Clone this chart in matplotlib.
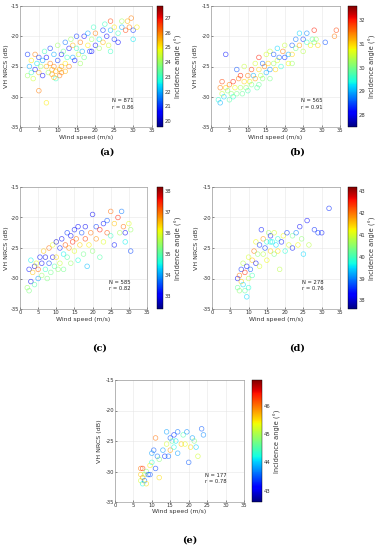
import numpy as np
import matplotlib
matplotlib.use("Agg")
import matplotlib.pyplot as plt

plt.rcParams["axes.unicode_minus"] = False

# (a) wind speed, VH NRCS, incidence angle
wa = [2, 2.5, 2, 3, 3, 3.5, 4, 4, 4.5, 5, 5, 5.5, 5, 6, 6, 6.5, 7, 7, 7.5, 7, 8, 8, 8.5, 9, 9, 9.5, 10, 10,
      10.5, 11, 11, 11.5, 12, 12, 12.5, 13, 13, 13.5, 14, 14, 14.5, 15, 15, 15.5, 16, 16.5, 17, 17, 18, 18,
      18.5, 19, 19.5, 20, 20, 21, 21, 22, 22, 22.5, 23, 23.5, 24, 24, 25, 25, 26, 26, 27, 27, 28, 28.5, 29,
      29.5, 30, 31, 30, 16, 19, 24, 8.5, 9.5, 10.5, 11, 9, 12]
sa = [-26.5, -25, -23, -24, -26, -27, -25.5, -23, -24.5, -26, -23.5, -25, -29, -24, -26.5, -22.5, -25, -23.5,
      -26, -31, -24.5, -22, -25.5, -23, -25, -27, -24, -21.5, -25.5, -23, -26, -22.5, -24.5, -21, -23.5, -25,
      -22, -20.5, -23.5, -21.5, -24, -22, -20, -23, -21, -22.5, -20, -23.5, -21.5, -19.5, -22.5, -20.5, -18.5,
      -21.5, -19.5, -20.5, -22, -19, -21, -18, -20, -21.5, -19, -17.5, -20.5, -18.5, -19.5, -21, -18.5, -17.5,
      -19, -17.5, -18.5, -17, -19, -18.5, -20.5, -24.5, -22.5, -22.5, -26.3, -25.8, -26.5, -25, -26.8, -25.8]
ia = [24, 22, 21, 25, 23, 24.5, 20.5, 26, 22.5, 25.5, 21, 24, 26, 22, 20.5, 23, 25.5, 20.5, 24, 25, 26, 21,
      25.5, 22, 26, 23, 21, 24, 25.5, 20.5, 26, 23.5, 25, 21.5, 23, 26, 20.5, 24, 22, 25.5, 20.5, 23, 21, 24.5,
      26, 22, 20.5, 23.5, 25, 22, 21, 24, 23, 20.5, 26, 22.5, 24, 21, 25.5, 23, 20.5, 24.5, 22, 26.5, 21, 25,
      23, 20.5, 22, 24, 26.5, 25.5, 26, 26, 21, 25, 22.5, 24, 20.5, 23, 25.8, 25.6, 26, 25.7, 25.5, 25.5]

# (b)
wb = [2, 2.5, 2.5, 3, 3, 3.5, 4, 4, 4.5, 5, 5, 5.5, 6, 6, 6.5, 7, 7, 7.5, 8, 8, 8.5, 9, 9, 9.5, 10, 10, 10.5,
      11, 11, 11.5, 12, 12, 12.5, 13, 13, 13.5, 14, 14, 14.5, 15, 15, 15.5, 16, 16, 17, 17, 17.5, 18, 18, 18.5,
      19, 19.5, 20, 20, 21, 21, 22, 22, 23, 23, 24, 24, 25, 25, 26, 26, 27, 27.5, 28, 28, 28.5, 29, 31, 33.5,
      34, 22, 16, 13]
sb = [-30.5, -31, -28.5, -29.5, -27.5, -30, -28.5, -23, -29, -30.5, -28, -29.5, -27.5, -30, -28.5, -29.5,
      -25.5, -27, -28.5, -26.5, -29.5, -27.5, -25, -28.5, -26.5, -29, -27.5, -25.5, -28, -26.5, -27, -24.5,
      -28.5, -25.5, -23.5, -26.5, -24.5, -27, -25, -23, -26, -24.5, -25.5, -22.5, -24.5, -23, -25.5, -22, -24,
      -23.5, -25, -22.5, -23.5, -21.5, -23, -24.5, -21.5, -23, -22, -20.5, -21.5, -19.5, -20.5, -22.5, -21,
      -19.5, -21.5, -20.5, -21, -19, -20.5, -21.5, -21, -20, -19, -24.5, -27, -28]
ib = [29.5, 29, 31.5, 30.5, 31.8, 29.2, 31, 28.2, 30, 29.8, 31.5, 30.2, 32, 29.5, 30.8, 30, 28.5, 31.5, 30.3,
      32, 29.9, 31, 30.5, 30.2, 31.5, 29.7, 30.8, 31.8, 30, 29, 31.3, 30.6, 29.8, 31, 32, 30.4, 28.6, 30.1, 31.5,
      30.6, 29, 31, 28.8, 30.5, 30.2, 28.5, 31, 29.2, 30.6, 28.6, 29.5, 31.5, 28.3, 30.5, 29, 30.8, 28.5, 31, 30,
      28.7, 31.3, 29.2, 28.4, 30.4, 29.6, 28.8, 30.8, 29.8, 30, 32, 30.3, 31, 28.5, 31.5, 31.8, 30.2, 30, 29.9]

# (c)
wc = [2, 2.5, 2.5, 3, 3, 3.5, 4, 4, 4.5, 5, 5, 5.5, 6, 6, 6.5, 7, 7, 7.5, 8, 8, 8.5, 9, 9, 9.5, 10, 10, 10.5,
      11, 11, 11.5, 12, 12, 12.5, 13, 13, 13.5, 14, 14, 14.5, 15, 15, 15.5, 16, 16, 16.5, 17, 17.5, 18, 18,
      18.5, 19, 19.5, 20, 20, 21, 21, 22, 22, 23, 23, 24, 24, 25, 25, 26, 26, 27, 27.5, 28, 28.5, 29, 30, 30.5,
      30.5, 29]
sc = [-31.5, -32, -28.5, -27, -30.5, -29, -31, -28, -27.5, -30, -28.5, -26.5, -29.5, -27.5, -25.5, -28.5,
      -26.5, -30, -27.5, -25, -29, -26.5, -24.5, -28, -24, -26.5, -28.5, -25, -27.5, -23.5, -26, -28.5, -24.5,
      -22.5, -26.5, -25, -23, -27.5, -24, -22, -25.5, -23.5, -21.5, -27, -24.5, -22.5, -26, -23.5, -21.5, -28,
      -24.5, -22.5, -19.5, -25.5, -21.5, -23.5, -22, -26.5, -21, -24, -22.5, -20.5, -23, -19, -21, -24.5, -20,
      -22.5, -19, -21.5, -22.5, -21, -25.5, -22, -24]
ic = [35.5, 35.3, 33.2, 34.5, 33, 36.5, 35, 32.8, 36, 34, 37, 33.2, 35.5, 33, 36.5, 34.8, 32.9, 35.3, 33.5, 37,
      35.2, 33.1, 36, 35, 32.8, 36.3, 35.4, 33.3, 35.8, 33, 34.5, 35.2, 37.2, 33.4, 35, 36.8, 33, 35.5, 37.5,
      33.2, 36, 37, 33.1, 34.6, 36.4, 33.5, 35.2, 37.3, 33, 34.2, 36.2, 37, 33, 35.4, 33.4, 36.8, 37.5, 35, 33.2,
      36, 37.2, 33.6, 34.8, 37, 36.5, 33.2, 37.5, 35.6, 33.8, 37, 33, 36, 33.5, 35.5, 34.5]

# (d)
wd = [7, 7, 7.5, 7.5, 8, 8, 8.5, 8.5, 9, 9, 9.5, 9.5, 10, 10, 10.5, 11, 11, 11.5, 12, 12, 12.5, 13, 13, 13.5,
      14, 14, 14.5, 15, 15, 15.5, 16, 16, 16.5, 17, 17, 17.5, 18, 18, 18.5, 19, 19.5, 20, 20.5, 21, 22, 22, 23,
      23.5, 24, 24.5, 25, 26, 26.5, 28, 29, 30, 32, 10, 16]
sd = [-30, -31.5, -29.5, -32, -28.5, -30.5, -27.5, -31, -29, -32, -33, -28, -30, -26.5, -28.5, -27, -29.5,
      -25.5, -27.5, -24, -26, -28, -24.5, -22, -26, -23.5, -25, -27, -24, -22.5, -25.5, -23, -24, -26, -22.5,
      -24.5, -23.5, -25.5, -28.5, -24, -23, -25.5, -22.5, -24.5, -23, -25, -22.5, -24.5, -21.5, -23.5, -26,
      -20.5, -24.5, -22, -22.5, -22.5, -18.5, -31.5, -24]
idd = [38.3, 40.2, 42, 40.5, 38.5, 41.5, 40.8, 39.5, 42.5, 40.2, 39.5, 38.2, 40.8, 41, 38.8, 41.5, 40, 42,
       38.2, 41.2, 40.5, 41, 38.5, 38.4, 40.8, 41.8, 38.6, 41.2, 39.8, 40.6, 41.5, 38.3, 39.7, 40.4, 41, 39.5,
       39.8, 41.4, 40.8, 38.4, 41.2, 39.8, 38.6, 41, 40.3, 38.4, 39, 41.2, 38.3, 40.5, 39.5, 38.3, 40.8, 38.5,
       38.6, 38.4, 38.5, 39.8, 39.6]

# (e)
we = [7, 7, 7, 7.5, 7.5, 7.5, 8, 8, 8.5, 8.5, 9, 9.5, 9.5, 10, 10, 10.5, 11, 11, 11.5, 12, 12, 13, 13.5, 14,
      14, 14.5, 15, 15, 15.5, 16, 16, 16.5, 17, 17, 18, 18.5, 19, 19.5, 20, 20.5, 21, 22, 22.5, 23.5, 24, 21.5]
se = [-29.5, -30.5, -31.5, -29.5, -32, -31, -30.5, -31.5, -30, -32, -30.5, -30.5, -29, -27, -28.5, -26.5,
      -29.5, -24.5, -27.5, -31, -28, -26.5, -27.5, -23.5, -25.5, -27.5, -24.5, -26.5, -25, -24, -26, -25,
      -23.5, -27, -25.5, -24, -25.5, -23.5, -28.5, -26, -24.5, -26, -27.5, -23, -24, -25]
ie = [46, 45.6, 45.2, 46.3, 44.2, 45.8, 45, 43.6, 44.8, 45.5, 43.4, 43.5, 45.4, 43.8, 44.3, 43.5, 43.4, 46,
      43.6, 45.5, 44.8, 43.8, 43.3, 43.8, 45.2, 43.6, 43.5, 45.8, 44.6, 43.3, 44.2, 44.1, 43.6, 43.8, 45.6, 44.5,
      45.3, 43.7, 43.5, 45.5, 43.8, 44, 45.2, 43.5, 43.7, 44.8]

panels = [
    ("(a)", wa, sa, ia, (19.6, 27.8), [20, 21, 22, 23, 24, 25, 26, 27], "N = 871\nr = 0.86"),
    ("(b)", wb, sb, ib, (27.5, 32.6), [28, 29, 30, 31, 32], "N = 565\nr = 0.91"),
    ("(c)", wc, sc, ic, (32.4, 38.2), [33, 34, 35, 36, 37, 38], "N = 585\nr = 0.82"),
    ("(d)", wd, sd, idd, (37.6, 43.2), [38, 39, 40, 41, 42, 43], "N = 278\nr = 0.76"),
    ("(e)", we, se, ie, (42.6, 46.9), [43, 44, 45, 46], "N = 177\nr = 0.78"),
]

# pixel boxes: axes (left, top, right, bottom), colorbar (left, right), label position, ylabel offset
boxes = [
    ((20, 6, 152, 127), (157, 163), (107, 152), 11),
    ((211, 6, 340, 127), (348, 357), (297, 152), 13),
    ((20, 187, 147, 309), (157, 163), (100, 348), 11),
    ((212, 187, 340, 309), (348, 357), (297, 348), 13),
    ((115, 380, 244, 502), (252, 262), (190, 540), 13),
]

W, H = 375, 550
fig = plt.figure(figsize=(W / 100, H / 100), dpi=100)
fs = 3.8

for (lab, w, s, ang, lim, cticks, txt), (ab, cb, lp, yoff) in zip(panels, boxes):
    l, t, r, b = ab
    ax = fig.add_axes([l / W, 1 - b / H, (r - l) / W, (b - t) / H])
    norm = plt.Normalize(*lim)
    cols = plt.cm.jet(norm(np.array(ang)))
    ax.scatter(w, s, s=11, facecolors="none", edgecolors=cols, linewidths=0.5, alpha=0.65)
    ax.set_xlim(0, 35)
    ax.set_ylim(-35, -15)
    ax.set_xticks(range(0, 36, 5))
    ax.set_yticks(range(-35, -14, 5))
    ax.grid(True, color="#e6e6e6", linewidth=0.4)
    ax.set_axisbelow(True)
    ax.tick_params(labelsize=fs, length=1.5, width=0.4, direction="in", pad=0.8, colors="#333333")
    for sp in ax.spines.values():
        sp.set_linewidth(0.4)
        sp.set_color("#888888")
    ax.set_xlabel("Wind speed (m/s)", fontsize=4.4, labelpad=1, color="#333333")
    ax.set_ylabel("VH NRCS (dB)", fontsize=4.6, color="#333333")
    ax.yaxis.set_label_coords(-yoff / (r - l), 0.5)
    ax.text(24.5, -31.2, txt, fontsize=fs, va="center", color="#222222", linespacing=1.3)

    cax = fig.add_axes([cb[0] / W, 1 - b / H, (cb[1] - cb[0]) / W, (b - t) / H])
    sm = plt.cm.ScalarMappable(norm=norm, cmap="jet")
    cbar = fig.colorbar(sm, cax=cax, ticks=cticks)
    cbar.outline.set_linewidth(0.3)
    cbar.ax.tick_params(labelsize=fs, length=0, pad=1.5, colors="#333333")
    cbar.set_label("Incidence angle (°)", fontsize=4.8, labelpad=2, color="#333333")

    fig.text(lp[0] / W, 1 - lp[1] / H, lab, fontsize=7, fontweight="bold",
             family="DejaVu Serif", ha="center", va="center")

fig.savefig("out.png", dpi=100)
